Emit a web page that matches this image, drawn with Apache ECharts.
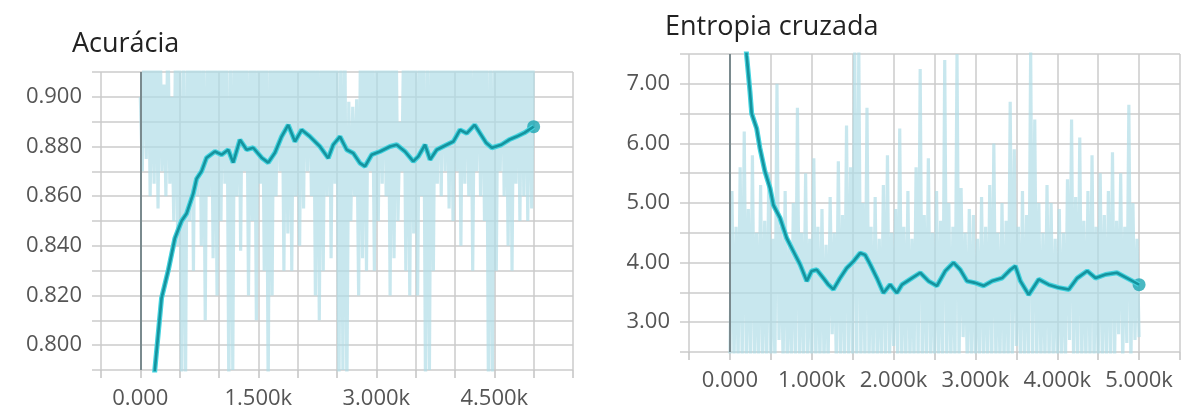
<!DOCTYPE html>
<html>
<head>
<meta charset="utf-8">
<script src="https://cdn.jsdelivr.net/npm/echarts@6/dist/echarts.min.js"></script>
<style>
  html, body { margin: 0; padding: 0; background: #fff; }
  #main { width: 1194px; height: 417px; }
</style>
</head>
<body>
<div id="main"></div>
<script>
// Acurácia - curva suavizada
var accSteps = [120, 184, 270, 354, 439, 524, 588, 672, 715, 778,
  842, 948, 1033, 1117, 1180, 1266, 1351, 1435, 1542, 1626,
  1711, 1796, 1880, 1965, 2050, 2156, 2283, 2389, 2452, 2538,
  2623, 2707, 2792, 2856, 2941, 3047, 3174, 3259, 3364, 3470,
  3534, 3619, 3683, 3768, 3895, 3979, 4064, 4149, 4250, 4395,
  4469, 4589, 4687, 4784, 4882, 5000];
var accSmooth = [0.755, 0.790, 0.819, 0.830, 0.843, 0.850, 0.853, 0.861, 0.867, 0.870,
  0.8755, 0.878, 0.8767, 0.8787, 0.8735, 0.8827, 0.8787, 0.8795, 0.8755, 0.8735,
  0.8775, 0.884, 0.8887, 0.882, 0.8867, 0.884, 0.880, 0.8753, 0.8807, 0.884,
  0.8787, 0.8773, 0.8733, 0.872, 0.8767, 0.878, 0.880, 0.8807, 0.878, 0.874,
  0.876, 0.8807, 0.8747, 0.8787, 0.8807, 0.882, 0.8867, 0.8853, 0.8887, 0.8815,
  0.8795, 0.8807, 0.8827, 0.884, 0.8855, 0.888];

// Acurácia - valores brutos (picos altos nos passos 0,50,100... e baixos nos passos 25,75,...)
var rawStep = 25;
var accRawHigh = [0.90, 0.93, 0.93, 0.92, 0.93, 0.93, 0.905, 0.93, 0.90, 0.93,
  0.93, 0.92, 0.93, 0.93, 0.93, 0.93, 0.92, 0.93, 0.93, 0.93,
  0.93, 0.93, 0.92, 0.93, 0.93, 0.93, 0.93, 0.93, 0.92, 0.93,
  0.93, 0.93, 0.93, 0.93, 0.93, 0.92, 0.93, 0.93, 0.93, 0.93,
  0.93, 0.93, 0.93, 0.92, 0.93, 0.93, 0.93, 0.93, 0.93, 0.93,
  0.92, 0.93, 0.93, 0.898, 0.896, 0.899, 0.93, 0.93, 0.93, 0.92,
  0.93, 0.93, 0.93, 0.93, 0.93, 0.93, 0.89, 0.93, 0.93, 0.93,
  0.93, 0.92, 0.93, 0.93, 0.93, 0.93, 0.93, 0.93, 0.92, 0.93,
  0.93, 0.93, 0.93, 0.93, 0.93, 0.92, 0.93, 0.93, 0.93, 0.93,
  0.93, 0.93, 0.93, 0.92, 0.93, 0.93, 0.93, 0.93, 0.93, 0.93, 0.93];
var accRawLow = [0.87, 0.875, 0.86, 0.865, 0.855, 0.87, 0.86, 0.865, 0.85, 0.84,
  0.78, 0.785, 0.85, 0.83, 0.86, 0.84, 0.81, 0.86, 0.835, 0.82,
  0.85, 0.865, 0.78, 0.79, 0.86, 0.838, 0.87, 0.82, 0.85, 0.81,
  0.865, 0.83, 0.78, 0.82, 0.86, 0.87, 0.83, 0.845, 0.83, 0.86,
  0.84, 0.855, 0.87, 0.86, 0.82, 0.81, 0.83, 0.86, 0.835, 0.865,
  0.78, 0.79, 0.78, 0.85, 0.86, 0.82, 0.835, 0.83, 0.87, 0.83,
  0.85, 0.865, 0.86, 0.82, 0.835, 0.85, 0.87, 0.83, 0.82, 0.845,
  0.82, 0.86, 0.78, 0.79, 0.83, 0.865, 0.86, 0.87, 0.855, 0.85,
  0.87, 0.84, 0.865, 0.86, 0.83, 0.87, 0.86, 0.85, 0.78, 0.785,
  0.83, 0.87, 0.86, 0.84, 0.83, 0.865, 0.85, 0.86, 0.85, 0.855];

// Entropia cruzada - curva suavizada
var lossSteps = [180, 204, 245, 266, 327, 367, 428, 490, 530, 612,
  694, 734, 775, 857, 939, 1000, 1061, 1142, 1203, 1264,
  1346, 1428, 1509, 1591, 1652, 1714, 1796, 1876, 1958, 2040,
  2102, 2224, 2326, 2427, 2530, 2632, 2733, 2815, 2897, 2999,
  3100, 3203, 3326, 3427, 3488, 3550, 3651, 3774, 3896, 4018,
  4141, 4244, 4366, 4468, 4590, 4729, 4893, 5000];
var lossSmooth = [7.9, 7.48, 6.87, 6.50, 6.25, 5.92, 5.53, 5.25, 4.97, 4.75,
  4.41, 4.30, 4.19, 3.97, 3.69, 3.86, 3.88, 3.74, 3.63, 3.55,
  3.74, 3.91, 4.02, 4.16, 4.13, 3.97, 3.74, 3.49, 3.63, 3.49,
  3.63, 3.74, 3.83, 3.69, 3.61, 3.86, 4.00, 3.88, 3.69, 3.66,
  3.61, 3.69, 3.74, 3.88, 3.94, 3.69, 3.46, 3.72, 3.63, 3.58,
  3.55, 3.74, 3.86, 3.74, 3.80, 3.83, 3.71, 3.63];

// Entropia cruzada - valores brutos (baixos nos passos 0,50,... e altos nos passos 25,75,...)
var lossRawLow = [2.3, 2.3, 2.3, 2.3, 2.3, 2.3, 2.3, 2.3, 2.3, 2.3,
  2.3, 2.3, 2.7, 2.3, 2.3, 2.3, 2.3, 2.3, 2.3, 2.3,
  2.3, 2.3, 2.3, 2.3, 2.3, 2.8, 2.3, 2.3, 2.3, 2.3,
  2.3, 2.3, 2.3, 2.3, 2.3, 2.3, 2.3, 2.3, 2.3, 2.3,
  2.6, 2.3, 2.3, 2.3, 2.3, 2.3, 2.3, 2.3, 2.3, 2.3,
  2.3, 2.3, 2.3, 2.3, 2.3, 2.3, 2.3, 2.75, 2.3, 2.3,
  2.3, 2.3, 2.3, 2.3, 2.3, 2.3, 2.3, 2.3, 2.3, 2.3,
  2.6, 2.3, 2.3, 2.3, 2.3, 2.3, 2.3, 2.3, 2.3, 2.3,
  2.3, 2.3, 2.3, 2.7, 2.3, 2.3, 2.3, 2.3, 2.3, 2.3,
  2.3, 2.3, 2.3, 2.3, 2.3, 2.8, 2.3, 2.65, 2.3, 2.7, 2.75];
var lossRawHigh = [5.2, 4.6, 5.6, 6.2, 4.9, 5.8, 4.5, 5.3, 4.7, 5.5,
  4.4, 7.0, 4.6, 5.2, 4.3, 5.0, 6.6, 4.5, 5.5, 4.4,
  5.75, 4.6, 4.9, 4.3, 5.1, 4.5, 5.7, 4.8, 6.3, 5.6,
  7.6, 7.6, 5.0, 6.6, 4.6, 5.1, 4.4, 5.3, 5.8, 4.5,
  4.9, 6.25, 4.6, 5.2, 4.4, 5.6, 7.25, 4.8, 5.75, 4.5,
  5.2, 4.7, 7.4, 5.0, 4.6, 7.5, 5.25, 4.5, 4.9, 4.8,
  4.4, 5.1, 4.6, 5.3, 6.0, 4.5, 5.0, 4.7, 6.7, 5.9,
  4.6, 5.2, 4.8, 7.6, 6.4, 5.0, 4.5, 5.3, 5.0, 4.4,
  4.9, 4.5, 5.4, 6.4, 5.1, 6.1, 4.7, 5.2, 5.8, 4.6,
  5.5, 4.8, 5.2, 5.85, 4.7, 5.5, 4.6, 6.65, 5.0, 4.4];

// rótulos dos eixos
var accYLabels = ['0.800', '0.820', '0.840', '0.860', '0.880', '0.900'];
var accXLabelSteps = [0, 1500, 3000, 4500];
var accXLabels = ['0.000', '1.500k', '3.000k', '4.500k'];
var lossYLabels = ['3.00', '4.00', '5.00', '6.00', '7.00'];
var lossXLabelSteps = [0, 1000, 2000, 3000, 4000, 5000];
var lossXLabels = ['0.000', '1.000k', '2.000k', '3.000k', '4.000k', '5.000k'];

function pairs(xs, ys) {
  var out = [];
  for (var i = 0; i < xs.length; i++) out.push([xs[i], ys[i]]);
  return out;
}
function zigzag(first, second) {
  var out = [];
  for (var i = 0; i < first.length; i++) {
    out.push([i * 2 * rawStep, first[i]]);
    if (i < second.length) out.push([(i * 2 + 1) * rawStep, second[i]]);
  }
  return out;
}

var font = "'Open Sans', 'Noto Sans', sans-serif";
var gridColor = '#cbcbcb';
var textColor = '#555';
var rawColor = '#b0dde7';

function yLabelFmt(list, digits) {
  return function (v) {
    var s = (Math.round(v * 1000) / 1000).toFixed(digits);
    return list.indexOf(s) >= 0 ? s : '';
  };
}
function xLabelFmt(steps, labels) {
  return function (v) {
    var i = steps.indexOf(Math.round(v));
    return i >= 0 ? labels[i] : '';
  };
}

var chart = echarts.init(document.getElementById('main'));

var accMain = pairs(accSteps, accSmooth);
var lossMain = pairs(lossSteps, lossSmooth);

var option = {
  animation: false,
  backgroundColor: '#fff',
  title: [
    { text: 'Acurácia', left: 72, top: 31, padding: 0,
      textStyle: { fontFamily: font, fontSize: 27, fontWeight: 'normal', color: '#222' } },
    { text: 'Entropia cruzada', left: 665, top: 14, padding: 0,
      textStyle: { fontFamily: font, fontSize: 27, fontWeight: 'normal', color: '#222' } }
  ],
  grid: [
    { left: 92, top: 72, width: 481, height: 298 },
    { left: 101, top: 72, width: 472, height: 298 },
    { left: 680, top: 54, width: 500, height: 298 },
    { left: 689, top: 54, width: 491, height: 298 }
  ],
  xAxis: [
    { gridIndex: 0, type: 'value', min: -615, max: 5500, show: false },
    { gridIndex: 1, type: 'value', min: -500, max: 5500, interval: 500,
      axisLine: { show: false },
      axisTick: { show: true, length: 8, lineStyle: { color: '#c4c4c4', width: 1.5 } },
      splitLine: { show: true, lineStyle: { color: gridColor, width: 1.5 } },
      axisLabel: { margin: 18, fontFamily: font, fontSize: 22, color: textColor,
        showMinLabel: true, showMaxLabel: true,
        formatter: xLabelFmt(accXLabelSteps, accXLabels) } },
    { gridIndex: 2, type: 'value', min: -610, max: 5500, show: false },
    { gridIndex: 3, type: 'value', min: -500, max: 5500, interval: 500,
      axisLine: { show: false },
      axisTick: { show: true, length: 8, lineStyle: { color: '#c4c4c4', width: 1.5 } },
      splitLine: { show: true, lineStyle: { color: gridColor, width: 1.5 } },
      axisLabel: { margin: 18, fontFamily: font, fontSize: 22, color: textColor,
        showMinLabel: true, showMaxLabel: true,
        formatter: xLabelFmt(lossXLabelSteps, lossXLabels) } }
  ],
  yAxis: [
    { gridIndex: 0, type: 'value', min: 0.79, max: 0.91, interval: 0.01,
      axisLine: { show: false }, axisTick: { show: false },
      splitLine: { show: true, lineStyle: { color: gridColor, width: 1.5 } },
      axisLabel: { margin: 10, fontFamily: font, fontSize: 22, color: textColor,
        formatter: yLabelFmt(accYLabels, 3) } },
    { gridIndex: 1, type: 'value', min: 0.79, max: 0.91, show: false },
    { gridIndex: 2, type: 'value', min: 2.5, max: 7.5, interval: 0.5,
      axisLine: { show: false }, axisTick: { show: false },
      splitLine: { show: true, lineStyle: { color: gridColor, width: 1.5 } },
      axisLabel: { margin: 10, fontFamily: font, fontSize: 22, color: textColor,
        formatter: yLabelFmt(lossYLabels, 2) } },
    { gridIndex: 3, type: 'value', min: 2.5, max: 7.5, show: false }
  ],
  series: [
    // brutos
    { type: 'line', xAxisIndex: 1, yAxisIndex: 1, data: zigzag(accRawHigh, accRawLow),
      showSymbol: false, silent: true, z: 1,
      lineStyle: { color: rawColor, width: 3.2, opacity: 0.7 },
      markLine: { symbol: ['none', 'none'], silent: true, label: { show: false },
        lineStyle: { color: '#7a8a8e', width: 2, type: 'solid', opacity: 1 }, data: [{ xAxis: 0 }] } },
    { type: 'line', xAxisIndex: 3, yAxisIndex: 3, data: zigzag(lossRawLow, lossRawHigh),
      showSymbol: false, silent: true, z: 1,
      lineStyle: { color: rawColor, width: 3.2, opacity: 0.7 },
      markLine: { symbol: ['none', 'none'], silent: true, label: { show: false },
        lineStyle: { color: '#7a8a8e', width: 2, type: 'solid', opacity: 1 }, data: [{ xAxis: 0 }] } },
    // suavizados (contorno claro + núcleo escuro)
    { type: 'line', xAxisIndex: 1, yAxisIndex: 1, data: accMain, showSymbol: false,
      lineStyle: { color: '#45d3df', width: 5 } },
    { type: 'line', xAxisIndex: 1, yAxisIndex: 1, data: accMain, showSymbol: false,
      lineStyle: { color: '#15939e', width: 2.6 } },
    { type: 'line', xAxisIndex: 3, yAxisIndex: 3, data: lossMain, showSymbol: false,
      lineStyle: { color: '#45d3df', width: 5 } },
    { type: 'line', xAxisIndex: 3, yAxisIndex: 3, data: lossMain, showSymbol: false,
      lineStyle: { color: '#15939e', width: 2.6 } },
    // ponto final
    { type: 'scatter', xAxisIndex: 1, yAxisIndex: 1, symbolSize: 13,
      data: [accMain[accMain.length - 1]], itemStyle: { color: '#1ba6b3' } },
    { type: 'scatter', xAxisIndex: 3, yAxisIndex: 3, symbolSize: 13,
      data: [lossMain[lossMain.length - 1]], itemStyle: { color: '#1ba6b3' } }
  ]
};

chart.setOption(option);
</script>
</body>
</html>
